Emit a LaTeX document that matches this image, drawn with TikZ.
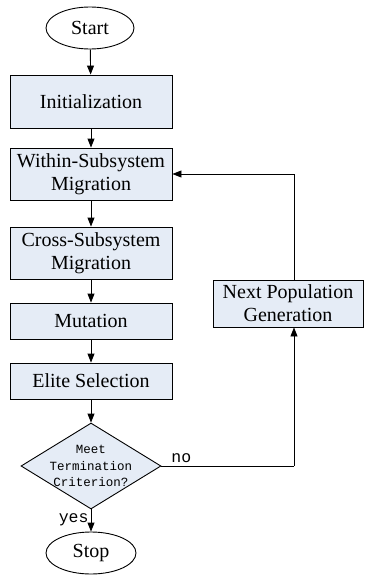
\documentclass[tikz,border=0pt]{standalone}
\usepackage{fontspec}
\setmainfont{Liberation Serif}
\setmonofont{Liberation Mono}
\usepackage{xcolor}
\usetikzlibrary{shapes,arrows,positioning,calc,shapes.geometric,arrows.meta}
\definecolor{boxfill}{HTML}{E5ECF6}

\begin{document}
\begin{tikzpicture}[x=1pt, y=-1pt, line width=0.9pt,
    box/.style={draw, fill=boxfill, minimum width=162pt, inner sep=0pt, align=center,
        font=\fontsize{20}{23}\selectfont},
    terminal/.style={draw, ellipse, minimum width=88pt, minimum height=42pt, inner sep=0pt,
        font=\fontsize{20}{23}\selectfont},
    decision/.style={draw, diamond, fill=boxfill, aspect=1.63, minimum width=140pt,
        minimum height=86pt, inner sep=-2.8pt, align=center,
        font=\ttfamily\fontsize{12.5}{16.5}\selectfont},
    flow/.style={-{Triangle[length=9pt, width=7pt]}}
]
    \useasboundingbox (0, 0) rectangle (367, 575);
    \node [terminal] (start) at (90, 28) {Start};
    \node [box, minimum height=53pt] (init) at (91, 101.5) {Initialization};
    \node [box, minimum height=52pt] (within) at (91, 174) {Within-Subsystem\\Migration};
    \node [box, minimum height=52pt] (cross) at (91, 253) {Cross-Subsystem\\Migration};
    \node [box, minimum height=36pt] (mutation) at (91, 321) {Mutation};
    \node [box, minimum height=36pt] (elite) at (91, 381) {Elite Selection};
    \node [decision] (check) at (91, 466) {Meet\\Termination\\Criterion?};
    \node [terminal, minimum width=90pt] (stop) at (91, 553) {Stop};
    \node [box, minimum width=150pt, minimum height=47pt] (next) at (288, 303.5) {Next Population\\Generation};
    \coordinate (turn) at (294, 466); % corner below next box
    \draw [flow] (start) -- (init);
    \draw [flow] (init) -- (within);
    \draw [flow] (within) -- (cross);
    \draw [flow] (cross) -- (mutation);
    \draw [flow] (mutation) -- (elite);
    \draw [flow] (elite) -- (check);
    \draw [flow] (check) -- (stop) node [pos=0.45, left, font=\ttfamily\fontsize{16.5}{18}\selectfont, inner sep=2pt] {yes};
    \draw (check.east) -- (turn) node [pos=0.15, above, font=\ttfamily\fontsize{16.5}{18}\selectfont] {no};
    \draw [flow] (turn) -- (turn |- next.south);
    \draw [flow] (turn |- next.north) |- (within.east);
\end{tikzpicture}
\end{document}
